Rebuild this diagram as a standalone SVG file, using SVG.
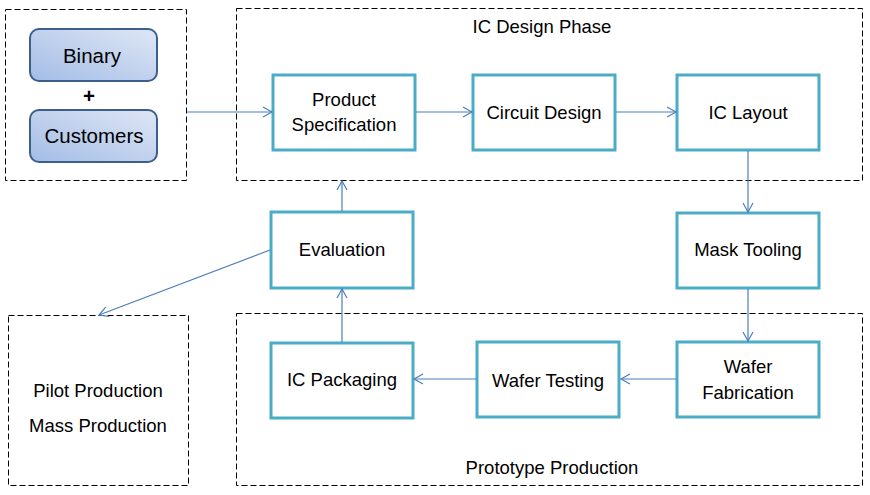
<svg xmlns="http://www.w3.org/2000/svg" width="870" height="495" viewBox="0 0 870 495">
<style>
.frame{fill:none;stroke:#000;stroke-width:1;stroke-dasharray:6,3}
.node{fill:#fff;stroke:#4bacc6;stroke-width:3}
.src{stroke:#3e5f8c;stroke-width:2}
.lbl{font-family:"Liberation Sans",Arial,sans-serif;font-size:18.5px;fill:#000;text-anchor:middle}
.big{font-family:"Liberation Sans",Arial,sans-serif;font-size:20.5px;fill:#000;text-anchor:middle}
.conn{stroke:#4a7ebb;stroke-width:1.2;fill:none;marker-end:url(#arr)}
</style>
<defs>
<linearGradient id="g" x1="1" y1="0" x2="0" y2="1">
<stop offset="0" stop-color="#dfe7f5"/>
<stop offset="1" stop-color="#a3bce6"/>
</linearGradient>
<marker id="arr" markerUnits="userSpaceOnUse" markerWidth="12" markerHeight="12" viewBox="0 0 12 12" refX="10" refY="6" orient="auto">
<path d="M1,1 L10,6 L1,11" fill="none" stroke="#4a7ebb" stroke-width="1.2"/>
</marker>
</defs>
<g id="frames">
<rect id="input-frame" class="frame" x="5.5" y="9.5" width="181" height="171"/>
<rect id="design-frame" class="frame" x="236.5" y="8.5" width="626" height="172"/>
<rect id="proto-frame" class="frame" x="236.5" y="313.5" width="626" height="172"/>
<rect id="pilot-frame" class="frame" x="8.5" y="315.5" width="180" height="170"/>
<text class="lbl" x="542" y="33">IC Design Phase</text>
<text class="lbl" x="552" y="474">Prototype Production</text>
<text class="lbl" x="98" y="397">Pilot Production</text>
<text class="lbl" x="98" y="432">Mass Production</text>
</g>
<g id="binary">
<rect class="src" x="30" y="29" width="127" height="52" rx="9" fill="url(#g)"/>
<text class="big" x="92" y="63">Binary</text>
</g>
<text class="big" x="89" y="103" style="font-weight:bold">+</text>
<g id="customers">
<rect class="src" x="30" y="110" width="127" height="52" rx="9" fill="url(#g)"/>
<text class="big" x="94" y="143">Customers</text>
</g>
<g id="product-spec">
<rect class="node" x="273" y="75" width="142" height="75"/>
<text class="lbl" x="344" y="106">Product</text>
<text class="lbl" x="344" y="131">Specification</text>
</g>
<g id="circuit-design">
<rect class="node" x="473" y="75" width="142" height="75"/>
<text class="lbl" x="544" y="119">Circuit Design</text>
</g>
<g id="ic-layout">
<rect class="node" x="677" y="75" width="142" height="75"/>
<text class="lbl" x="748" y="119">IC Layout</text>
</g>
<g id="mask-tooling">
<rect class="node" x="677" y="213" width="142" height="75"/>
<text class="lbl" x="748" y="256">Mask Tooling</text>
</g>
<g id="wafer-fab">
<rect class="node" x="677" y="342" width="142" height="75"/>
<text class="lbl" x="748" y="373">Wafer</text>
<text class="lbl" x="748" y="399">Fabrication</text>
</g>
<g id="wafer-testing">
<rect class="node" x="477" y="342" width="142" height="75"/>
<text class="lbl" x="548" y="387">Wafer Testing</text>
</g>
<g id="ic-packaging">
<rect class="node" x="271" y="343" width="142" height="75"/>
<text class="lbl" x="342" y="386">IC Packaging</text>
</g>
<g id="evaluation">
<rect class="node" x="271" y="212" width="142" height="76"/>
<text class="lbl" x="342" y="256">Evaluation</text>
</g>
<g id="connectors">
<line class="conn" x1="187" y1="112" x2="272" y2="112"/>
<line class="conn" x1="416" y1="112" x2="472" y2="112"/>
<line class="conn" x1="616" y1="112" x2="676" y2="112"/>
<line class="conn" x1="748" y1="151" x2="748" y2="212"/>
<line class="conn" x1="748" y1="289" x2="748" y2="341"/>
<line class="conn" x1="676" y1="379" x2="621" y2="379"/>
<line class="conn" x1="476" y1="379" x2="414" y2="379"/>
<line class="conn" x1="342" y1="342" x2="342" y2="289"/>
<line class="conn" x1="342" y1="211" x2="342" y2="181"/>
<line class="conn" x1="270" y1="250" x2="99" y2="315"/>
</g>
</svg>
